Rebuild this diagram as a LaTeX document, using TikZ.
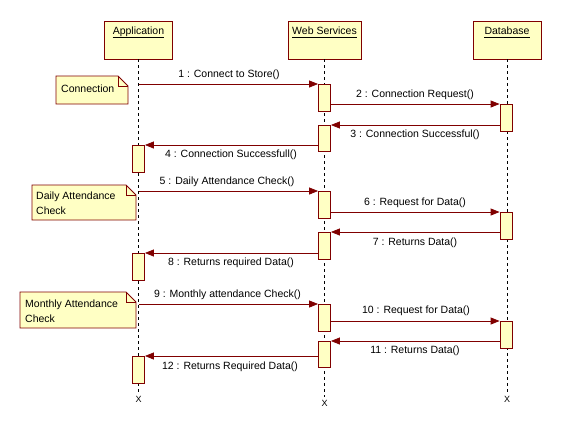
\documentclass[tikz,border=0pt]{standalone}
\usepackage{fontspec}
\setmainfont{Liberation Sans}
\usetikzlibrary{arrows.meta}
\definecolor{umlfill}{RGB}{255,255,196}
\definecolor{umlline}{RGB}{128,0,0}
\begin{document}
\begin{tikzpicture}[x=1pt,y=-1pt,
  every node/.style={font=\fontsize{10.5}{12}\selectfont, inner sep=0pt},
  hdr/.style={draw=umlline, fill=umlfill, line width=0.8pt, minimum width=68pt, minimum height=38pt},
  hdrtxt/.style={text height=8pt, text depth=3pt},
  uline/.style={draw=black, line width=0.6pt},
  act/.style={draw=umlline, fill=umlfill, line width=0.8pt, minimum width=12pt, minimum height=27pt, anchor=north},
  msg/.style={draw=umlline, line width=0.8pt, -{Triangle[length=9pt,width=7pt]}},
  life/.style={draw=black, line width=0.7pt, dash pattern=on 3pt off 3pt, shorten >=3pt},
  endx/.style={font=\fontsize{9}{10}\selectfont},
  notebox/.style={draw=umlline, fill=umlfill, line width=0.8pt},
  notetxt/.style={anchor=west, align=left, font=\fontsize{10.5}{15}\selectfont}
]
\useasboundingbox[fill=white] (0,0) rectangle (561,434);

% lifeline heads
\node[hdr] (app) at (138.5,40) {};
\node[hdrtxt] (appT) at (138.5,32) {Application};
\node[hdr, minimum width=73pt] (ws) at (324.5,40) {};
\node[hdrtxt] (wsT) at (324.5,32) {Web Services};
\node[hdr] (db) at (507,40) {};
\node[hdrtxt] (dbT) at (507,32) {Database};
\draw[uline] (appT.south west) -- (appT.south east);
\draw[uline] (wsT.south west) -- (wsT.south east);
\draw[uline] (dbT.south west) -- (dbT.south east);

% end marks
\node[endx] (appX) at (138.5,399) {X};
\node[endx] (wsX) at (324.5,403) {X};
\node[endx] (dbX) at (507,399) {X};

% lifelines
\draw[life] (app.south) -- (appX.north);
\draw[life] (ws.south) -- (wsX.north);
\draw[life] (db.south) -- (dbX.north);

% notes
\draw[notebox] (56,76) -- (118,76) -- (128,86) -- (128,104) -- (56,104) -- cycle;
\draw[umlline, line width=0.8pt] (118,76) -- (118,86) -- (128,86);
\node[notetxt] (n1) at (61,89) {Connection};

\draw[notebox] (32,185) -- (126,185) -- (136,195) -- (136,220) -- (32,220) -- cycle;
\draw[umlline, line width=0.8pt] (126,185) -- (126,195) -- (136,195);
\node[notetxt] (n2) at (36,203) {Daily Attendance\\Check};

\draw[notebox] (20,292) -- (126,292) -- (136,302) -- (136,328) -- (20,328) -- cycle;
\draw[umlline, line width=0.8pt] (126,292) -- (126,302) -- (136,302);
\node[notetxt] (n3) at (25,311) {Monthly Attendance\\Check};

% activations
\node[act] (w1) at (324.5,84) {};
\node[act] (d1) at (506,104) {};
\node[act, minimum height=26pt] (w2) at (324.5,125) {};
\node[act] (a1) at (138.5,145) {};

\node[act] (w3) at (324.5,191) {};
\node[act] (d2) at (506,212) {};
\node[act] (w4) at (324.5,232) {};
\node[act] (a2) at (138.5,253) {};

\node[act] (w5) at (324.5,304) {};
\node[act] (d3) at (506,321) {};
\node[act, minimum height=26pt] (w6) at (324.5,341) {};
\node[act] (a3) at (138.5,356) {};

% messages
\draw[msg] (app.south |- w1.north) -- (w1.north west);
\draw[msg] (w1.east |- d1.north) -- (d1.north west);
\draw[msg] (d1.west |- w2.north) -- (w2.north east);
\draw[msg] (w2.west |- a1.north) -- (a1.north east);

\draw[msg] (app.south |- w3.north) -- (w3.north west);
\draw[msg] (w3.east |- d2.north) -- (d2.north west);
\draw[msg] (d2.west |- w4.north) -- (w4.north east);
\draw[msg] (w4.west |- a2.north) -- (a2.north east);

\draw[msg] (app.south |- w5.north) -- (w5.north west);
\draw[msg] (w5.east |- d3.north) -- (d3.north west);
\draw[msg] (d3.west |- w6.north) -- (w6.north east);
\draw[msg] (w6.west |- a3.north) -- (a3.north east);

% message labels
\node (l1) at (229,75) {1 : Connect to Store()};
\node (l2) at (415,95) {2 : Connection Request()};
\node (l3) at (415,135) {3 : Connection Successful()};
\node (l4) at (231,155) {4 : Connection Successfull()};
\node (l5) at (227,182) {5 : Daily Attendance Check()};
\node (l6) at (415,203) {6 : Request for Data()};
\node (l7) at (415,243) {7 : Returns Data()};
\node (l8) at (231,263) {8 : Returns required Data()};
\node (l9) at (227.5,295) {9 : Monthly attendance Check()};
\node (l10) at (416,311) {10 : Request for Data()};
\node (l11) at (415,351) {11 : Returns Data()};
\node (l12) at (230,367) {12 : Returns Required Data()};
\end{tikzpicture}
\end{document}
